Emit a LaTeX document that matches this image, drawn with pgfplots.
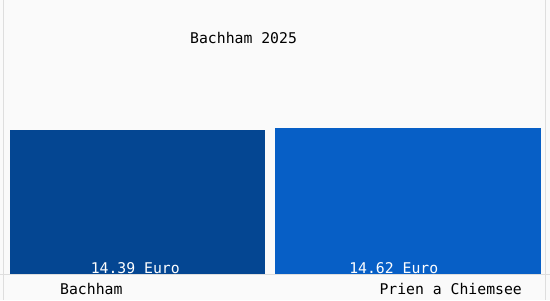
\documentclass[border=0pt]{standalone}
\usepackage{fontspec}
\setmonofont{DejaVu Sans Mono}
\usepackage{pgfplots}
\pgfplotsset{compat=1.18}
\definecolor{bg}{RGB}{250,250,250}
\definecolor{barA}{RGB}{4,70,146}
\definecolor{barB}{RGB}{7,95,198}
\definecolor{frame}{RGB}{222,222,222}
\begin{document}
\begin{tikzpicture}
\begin{axis}[
  scale only axis,
  width=550bp, height=300bp,
  xmin=0, xmax=550, ymin=-2.6, ymax=27.4,
  axis lines=none,
  ybar,
  clip=false,
  font=\ttfamily\fontsize{14.8bp}{16bp}\selectfont,
]
\fill[bg] (axis cs:0,-2.6) rectangle (axis cs:550,27.4);
\draw[frame, line width=1bp] (axis cs:3,-2.6) -- (axis cs:3,27.4);
\draw[frame, line width=1bp] (axis cs:545.5,-2.6) -- (axis cs:545.5,27.4);
\draw[frame, line width=1bp] (axis cs:0,-0.05) -- (axis cs:550,-0.05);
\addplot[fill=barA, draw=none, bar width=255bp, bar shift=0pt] coordinates {(137.5,14.39)};
\addplot[fill=barB, draw=none, bar width=266bp, bar shift=0pt] coordinates {(408,14.62)};
\node[white] at (axis cs:135,0.6) {14.39 Euro};
\node[white] at (axis cs:394,0.6) {14.62 Euro};
\node[black] at (axis cs:91,-1.5) {Bachham};
\node[black] at (axis cs:451,-1.5) {Prien a Chiemsee};
\node[black] at (axis cs:243.5,23.6) {Bachham 2025};
\end{axis}
\end{tikzpicture}
\end{document}
